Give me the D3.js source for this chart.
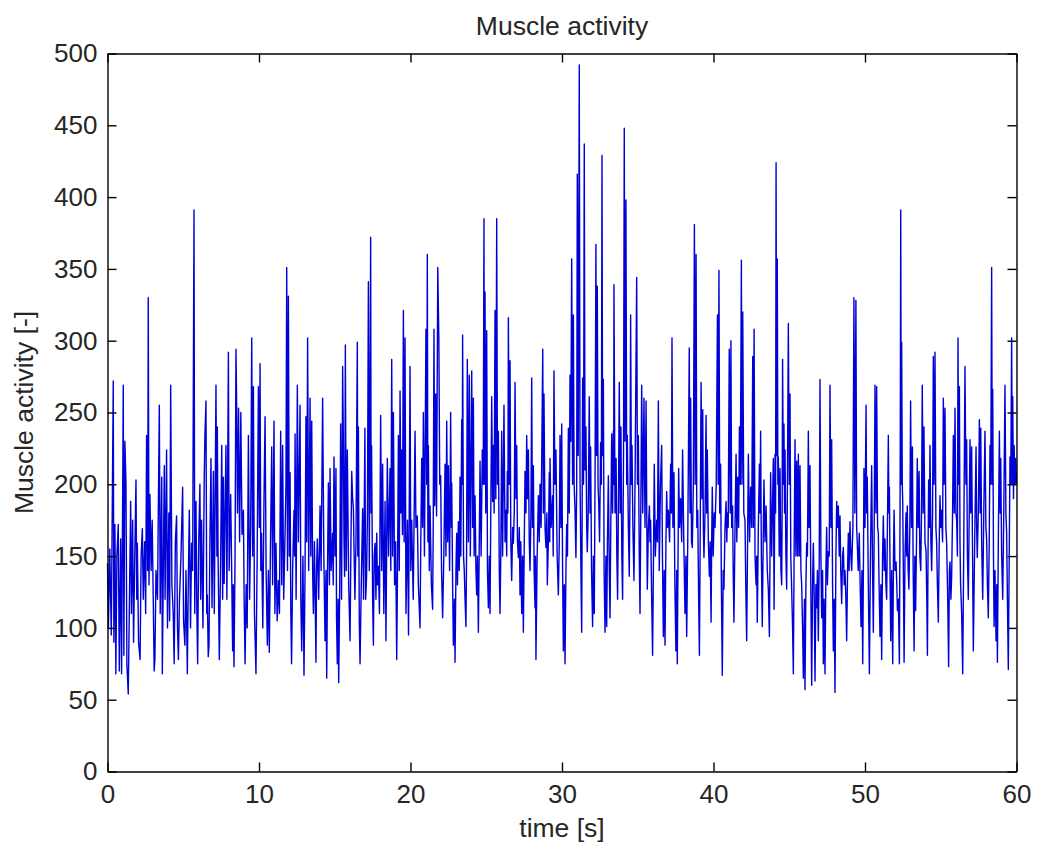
<!DOCTYPE html>
<html>
<head>
<meta charset="utf-8">
<script src="https://cdn.jsdelivr.net/npm/d3@7"></script>
<style>
  body { margin: 0; background: #fff; }
  svg text { font-family: "Liberation Sans", Arial, Helvetica, sans-serif; fill: #262626; }
</style>
</head>
<body>
<svg id="chart" width="1037" height="850"></svg>
<script>
// Muscle activity envelope: [time in s, activity], one array per 10 s block
const seg00 = [[0.00,145],[0.06,100],[0.15,155],[0.25,95],[0.38,272],[0.42,90],[0.49,172],[0.55,68],[0.62,150],[0.71,172],[0.78,70],[0.87,162],[0.93,68],[1.00,190],[1.04,269],[1.08,81],[1.15,230],[1.22,200],[1.28,75],[1.37,54],[1.45,120],[1.53,188],[1.58,110],[1.66,175],[1.72,90],[1.80,150],[1.88,203],[1.93,120],[1.97,159],[2.05,90],[2.15,78],[2.22,150],[2.30,169],[2.36,120],[2.45,160],[2.52,110],[2.58,234],[2.65,140],[2.69,330],[2.74,130],[2.80,193],[2.88,140],[2.95,175],[3.02,120],[3.08,70],[3.13,78],[3.20,140],[3.30,120],[3.42,255],[3.48,110],[3.58,205],[3.62,68],[3.70,160],[3.75,213],[3.80,120],[3.90,224],[3.96,100],[4.05,180],[4.10,105],[4.17,269],[4.25,130],[4.34,110],[4.40,75],[4.48,160],[4.56,178],[4.62,100],[4.68,78],[4.75,120],[4.85,150],[4.96,198],[5.02,105],[5.11,88],[5.18,140],[5.27,68],[5.33,130],[5.40,182],[5.48,100],[5.55,159],[5.62,140],[5.71,391],[5.76,110],[5.84,188],[5.90,110],[5.95,75],[6.02,160],[6.10,200],[6.15,120],[6.21,175],[6.30,100],[6.38,200],[6.43,234],[6.50,258],[6.55,110],[6.59,123],[6.65,80],[6.70,88],[6.76,160],[6.83,218],[6.90,114],[6.99,209],[7.05,110],[7.16,269],[7.22,150],[7.25,240],[7.30,149],[7.38,78],[7.46,140],[7.54,227],[7.60,120],[7.65,205],[7.70,131],[7.82,227],[7.88,120],[7.98,292],[8.03,140],[8.13,193],[8.18,153],[8.26,84],[8.30,130],[8.35,73],[8.42,150],[8.48,294],[8.52,260],[8.58,180],[8.65,253],[8.72,160],[8.80,250],[8.88,165],[8.97,182],[9.02,120],[9.08,75],[9.15,130],[9.22,100],[9.30,234],[9.38,120],[9.45,170],[9.52,302],[9.58,150],[9.63,268],[9.70,110],[9.80,68],[9.88,150],[9.96,268]];

const seg10 = [[10.02,170],[10.07,284],[10.12,140],[10.17,166],[10.25,100],[10.33,190],[10.40,247],[10.47,140],[10.55,88],[10.62,140],[10.68,83],[10.76,160],[10.84,226],[10.90,130],[10.99,244],[11.05,110],[11.12,159],[11.20,105],[11.28,133],[11.35,110],[11.43,237],[11.50,130],[11.56,227],[11.63,120],[11.72,166],[11.78,200],[11.83,351],[11.88,140],[11.94,331],[12.00,150],[12.05,208],[12.10,110],[12.15,75],[12.22,140],[12.31,182],[12.35,150],[12.38,235],[12.45,120],[12.53,269],[12.60,160],[12.71,255],[12.76,120],[12.82,84],[12.90,150],[12.97,67],[13.04,140],[13.10,247],[13.15,160],[13.21,302],[13.28,140],[13.37,260],[13.42,150],[13.48,244],[13.54,140],[13.59,110],[13.66,160],[13.76,76],[13.80,140],[13.85,162],[13.94,120],[14.03,185],[14.10,140],[14.20,260],[14.28,150],[14.36,91],[14.42,140],[14.47,65],[14.53,150],[14.58,201],[14.65,130],[14.69,211],[14.76,140],[14.86,166],[14.90,130],[14.95,219],[15.02,150],[15.08,211],[15.12,106],[15.17,75],[15.22,120],[15.26,62],[15.33,130],[15.39,242],[15.45,120],[15.52,282],[15.56,240],[15.61,162],[15.65,136],[15.70,297],[15.76,140],[15.83,224],[15.92,130],[16.01,91],[16.06,150],[16.12,209],[16.18,190],[16.23,183],[16.28,150],[16.33,120],[16.40,160],[16.49,299],[16.52,150],[16.56,240],[16.62,104],[16.67,75],[16.75,130],[16.84,183],[16.90,120],[16.99,239],[17.04,120],[17.10,135],[17.16,180],[17.22,341],[17.28,140],[17.37,372],[17.40,180],[17.43,227],[17.50,120],[17.55,88],[17.60,150],[17.66,159],[17.72,120],[17.77,166],[17.82,130],[17.88,143],[17.95,110],[18.03,248],[18.10,140],[18.16,214],[18.24,110],[18.32,188],[18.38,91],[18.47,218],[18.55,150],[18.65,211],[18.70,140],[18.76,287],[18.82,150],[18.87,250],[18.95,130],[19.02,160],[19.09,78],[19.15,150],[19.20,234],[19.26,140],[19.31,265],[19.37,180],[19.42,224],[19.47,165],[19.53,321],[19.58,160],[19.64,302],[19.70,110],[19.80,175],[19.87,95],[19.97,282]];

const seg20 = [[20.02,140],[20.08,175],[20.18,120],[20.30,237],[20.36,170],[20.45,178],[20.52,130],[20.63,100],[20.68,160],[20.74,218],[20.80,170],[20.85,250],[20.92,150],[21.02,308],[21.07,200],[21.11,360],[21.15,160],[21.18,227],[21.24,140],[21.29,185],[21.38,130],[21.46,113],[21.50,170],[21.55,308],[21.60,185],[21.66,263],[21.72,178],[21.80,351],[21.87,302],[21.93,200],[21.99,206],[22.05,140],[22.12,107],[22.20,150],[22.28,214],[22.34,150],[22.39,244],[22.45,160],[22.50,213],[22.58,140],[22.65,250],[22.70,170],[22.72,201],[22.78,130],[22.83,88],[22.90,120],[22.94,76],[23.00,140],[23.05,166],[23.10,130],[23.16,174],[23.22,140],[23.27,205],[23.32,150],[23.38,245],[23.42,200],[23.44,304],[23.50,150],[23.55,140],[23.60,120],[23.66,101],[23.70,150],[23.75,287],[23.82,160],[23.88,276],[23.95,150],[24.04,279],[24.10,170],[24.15,260],[24.20,150],[24.26,192],[24.32,140],[24.37,123],[24.42,150],[24.48,97],[24.53,150],[24.59,216],[24.66,150],[24.74,224],[24.80,200],[24.85,385],[24.88,200],[24.92,334],[24.97,180],[25.03,307],[25.08,140],[25.14,114],[25.20,150],[25.25,110],[25.30,180],[25.36,261],[25.42,188],[25.47,227],[25.52,180],[25.58,321],[25.63,190],[25.69,385],[25.74,200],[25.80,237],[25.86,140],[25.91,110],[25.96,150],[26.02,237],[26.08,150],[26.17,255],[26.24,160],[26.30,182],[26.35,150],[26.39,209],[26.43,180],[26.46,316],[26.52,200],[26.57,286],[26.62,160],[26.68,133],[26.74,170],[26.79,159],[26.85,180],[26.90,271],[26.96,190],[27.01,227],[27.06,160],[27.12,149],[27.18,170],[27.23,123],[27.28,160],[27.34,110],[27.40,150],[27.45,97],[27.50,150],[27.56,209],[27.62,180],[27.67,234],[27.72,190],[27.78,224],[27.84,160],[27.89,140],[27.95,180],[28.00,274],[28.05,170],[28.11,213],[28.16,140],[28.22,114],[28.25,150],[28.28,78],[28.36,150],[28.44,192],[28.50,160],[28.55,200],[28.62,170],[28.73,294],[28.77,180],[28.81,263],[28.88,170],[28.94,156],[29.00,180],[29.03,130],[29.10,160],[29.16,208],[29.19,160],[29.21,218],[29.28,170],[29.38,192],[29.42,150],[29.47,279],[29.53,200],[29.60,224],[29.68,150],[29.76,123],[29.82,160],[29.87,234],[29.93,170],[29.98,242]];

const seg30 = [[30.04,140],[30.09,84],[30.15,130],[30.20,75],[30.26,140],[30.31,172],[30.36,150],[30.42,239],[30.48,180],[30.53,276],[30.58,230],[30.64,357],[30.70,200],[30.75,318],[30.80,200],[30.86,182],[30.92,149],[30.97,200],[31.01,416],[31.07,220],[31.14,492],[31.19,205],[31.26,130],[31.30,97],[31.33,180],[31.36,274],[31.42,200],[31.47,437],[31.52,210],[31.58,240],[31.63,170],[31.67,153],[31.73,180],[31.80,261],[31.85,180],[31.89,226],[31.95,140],[32.02,101],[32.07,150],[32.13,110],[32.18,200],[32.24,367],[32.28,220],[32.33,338],[32.38,200],[32.42,188],[32.48,160],[32.55,229],[32.60,200],[32.64,429],[32.68,220],[32.73,273],[32.78,140],[32.84,97],[32.90,150],[32.95,101],[33.00,160],[33.06,206],[33.12,140],[33.17,107],[33.22,170],[33.28,235],[33.34,180],[33.39,237],[33.41,200],[33.43,339],[33.50,180],[33.57,218],[33.62,150],[33.67,120],[33.72,180],[33.78,271],[33.84,180],[33.89,240],[33.95,150],[34.00,120],[34.06,220],[34.11,448],[34.16,230],[34.22,398],[34.27,200],[34.31,234],[34.38,170],[34.44,136],[34.49,200],[34.53,318],[34.58,200],[34.62,227],[34.68,170],[34.75,133],[34.82,200],[34.93,344],[34.98,200],[35.04,234],[35.10,150],[35.15,110],[35.20,180],[35.26,269],[35.33,180],[35.41,260],[35.48,170],[35.55,258],[35.60,170],[35.63,127],[35.70,170],[35.77,185],[35.81,160],[35.85,175],[35.92,120],[35.98,81],[36.04,150],[36.09,214],[36.16,150],[36.25,175],[36.30,160],[36.36,258],[36.42,140],[36.50,200],[36.58,227],[36.63,150],[36.69,94],[36.75,140],[36.80,88],[36.86,160],[36.91,195],[36.96,170],[37.02,182],[37.10,160],[37.17,214],[37.22,180],[37.26,302],[37.32,170],[37.39,208],[37.45,130],[37.52,84],[37.57,140],[37.61,75],[37.66,150],[37.70,211],[37.76,170],[37.83,190],[37.90,160],[37.96,224],[38.04,160],[38.12,110],[38.18,150],[38.23,94],[38.30,160],[38.40,295],[38.45,180],[38.49,260],[38.55,160],[38.60,156],[38.67,200],[38.74,381],[38.79,200],[38.85,360],[38.90,170],[38.96,182],[39.02,120],[39.07,81],[39.12,160],[39.18,271],[39.24,190],[39.29,252],[39.33,170],[39.37,149],[39.44,180],[39.51,248],[39.55,180],[39.59,224],[39.66,160],[39.73,136],[39.78,160],[39.84,104],[39.88,160],[39.92,198],[39.98,150]];

const seg40 = [[40.05,180],[40.10,170],[40.18,200],[40.26,318],[40.31,200],[40.36,349],[40.41,180],[40.47,214],[40.52,130],[40.58,67],[40.64,140],[40.69,127],[40.76,170],[40.83,188],[40.88,160],[40.91,180],[40.97,170],[41.04,294],[41.10,180],[41.15,300],[41.20,170],[41.26,185],[41.30,140],[41.35,104],[41.42,170],[41.49,221],[41.54,160],[41.60,205],[41.66,170],[41.71,240],[41.77,200],[41.84,356],[41.88,200],[41.93,320],[42.00,180],[42.08,175],[42.13,130],[42.19,91],[42.25,160],[42.30,221],[42.38,160],[42.45,198],[42.52,170],[42.59,289],[42.63,170],[42.68,308],[42.74,150],[42.81,130],[42.85,150],[42.89,104],[42.96,170],[43.03,214],[43.07,180],[43.11,237],[43.16,150],[43.22,101],[43.28,160],[43.33,203],[43.40,160],[43.47,185],[43.55,140],[43.62,127],[43.69,94],[43.77,208],[43.84,150],[43.95,218],[44.00,113],[44.06,221],[44.10,180],[44.13,424],[44.17,220],[44.21,357],[44.25,200],[44.28,219],[44.34,150],[44.39,211],[44.45,140],[44.50,130],[44.53,180],[44.56,287],[44.61,200],[44.65,242],[44.69,180],[44.72,224],[44.78,150],[44.83,127],[44.88,200],[44.94,312],[45.00,200],[45.05,263],[45.10,150],[45.16,127],[45.22,100],[45.27,68],[45.32,150],[45.38,231],[45.44,150],[45.49,216],[45.55,150],[45.60,221],[45.66,150],[45.71,213],[45.77,140],[45.82,130],[45.88,100],[45.93,65],[46.00,120],[46.04,57],[46.10,130],[46.15,159],[46.20,150],[46.26,237],[46.31,170],[46.37,213],[46.43,120],[46.48,60],[46.54,130],[46.59,159],[46.65,120],[46.70,63],[46.76,130],[46.81,114],[46.86,140],[46.92,91],[46.98,150],[47.03,273],[47.09,150],[47.14,107],[47.20,140],[47.25,75],[47.30,120],[47.36,68],[47.42,140],[47.47,170],[47.52,130],[47.58,153],[47.64,150],[47.69,269],[47.75,170],[47.80,231],[47.86,130],[47.91,84],[47.97,120],[48.02,55],[48.08,150],[48.13,188],[48.18,170],[48.24,185],[48.30,150],[48.35,178],[48.40,140],[48.46,117],[48.52,150],[48.57,156],[48.63,130],[48.68,140],[48.74,120],[48.79,91],[48.85,140],[48.90,166],[48.95,140],[49.01,174],[49.07,150],[49.12,140],[49.20,170],[49.27,330],[49.33,180],[49.40,328],[49.45,170],[49.49,159],[49.55,140],[49.62,166],[49.68,130],[49.74,101],[49.80,140],[49.85,75],[49.90,150],[49.93,211]];

const seg50 = [[50.00,170],[50.07,255],[50.11,180],[50.15,205],[50.22,130],[50.29,68],[50.36,150],[50.44,213],[50.50,140],[50.55,97],[50.60,160],[50.66,269],[50.72,180],[50.77,268],[50.83,170],[50.88,166],[50.93,130],[50.99,94],[51.05,130],[51.10,78],[51.16,150],[51.21,178],[51.27,140],[51.32,162],[51.38,130],[51.43,120],[51.49,180],[51.54,234],[51.58,180],[51.61,198],[51.66,130],[51.70,91],[51.76,140],[51.83,75],[51.88,150],[51.92,182],[51.98,140],[52.05,146],[52.10,130],[52.14,112],[52.20,120],[52.27,75],[52.32,200],[52.36,391],[52.39,200],[52.42,299],[52.46,200],[52.49,188],[52.54,130],[52.58,76],[52.64,150],[52.71,180],[52.75,150],[52.79,185],[52.85,140],[52.90,127],[52.96,170],[53.01,258],[53.07,170],[53.13,226],[53.18,140],[53.24,84],[53.29,150],[53.34,112],[53.40,160],[53.45,218],[53.51,170],[53.57,209],[53.62,150],[53.68,140],[53.73,180],[53.78,269],[53.84,180],[53.89,240],[53.96,160],[54.03,153],[54.08,120],[54.12,81],[54.16,150],[54.20,203],[54.25,170],[54.29,227],[54.35,160],[54.40,140],[54.46,180],[54.51,289],[54.56,200],[54.62,292],[54.68,170],[54.73,159],[54.78,130],[54.84,104],[54.90,160],[54.95,192],[55.00,170],[55.06,182],[55.12,160],[55.17,260],[55.22,200],[55.28,253],[55.34,170],[55.39,159],[55.46,120],[55.52,73],[55.57,140],[55.61,146],[55.67,120],[55.72,136],[55.78,180],[55.83,234],[55.89,180],[55.94,253],[56.00,180],[56.05,175],[56.10,150],[56.14,302],[56.18,200],[56.23,268],[56.27,160],[56.31,130],[56.38,110],[56.45,68],[56.52,160],[56.60,282],[56.66,200],[56.71,231],[56.76,150],[56.82,120],[56.88,180],[56.93,231],[56.98,180],[57.04,226],[57.10,150],[57.15,84],[57.24,160],[57.33,226],[57.37,170],[57.41,149],[57.48,180],[57.55,245],[57.60,180],[57.64,239],[57.70,160],[57.77,120],[57.84,180],[57.92,237],[57.98,170],[58.03,162],[58.08,130],[58.14,107],[58.20,160],[58.25,227],[58.30,200],[58.36,351],[58.40,200],[58.43,266],[58.48,150],[58.52,101],[58.58,140],[58.65,91],[58.70,130],[58.74,76],[58.80,160],[58.87,237],[58.92,180],[58.96,218],[59.02,150],[59.09,120],[59.16,180],[59.24,269],[59.30,180],[59.35,166],[59.40,120],[59.46,71],[59.52,150],[59.57,219],[59.62,200],[59.68,302],[59.72,200],[59.75,261],[59.80,190],[59.84,227],[59.90,200],[59.95,218],[60.00,200]];

const xTicks = [0, 10, 20, 30, 40, 50, 60];
const yTicks = [0, 50, 100, 150, 200, 250, 300, 350, 400, 450, 500];
const chartTitle = "Muscle activity";
const xLabel = "time [s]";
const yLabel = "Muscle activity [-]";

const samples = [].concat(seg00, seg10, seg20, seg30, seg40, seg50);

const svg = d3.select("#chart");
const plotLeft = 107.5, plotRight = 1016.5, plotTop = 53.5, plotBottom = 771.5;
const fontSize = 26;
const tickLen = 9;

const x = d3.scaleLinear().domain([0, 60]).range([plotLeft, plotRight]);
const y = d3.scaleLinear().domain([0, 500]).range([plotBottom, plotTop]);

// signal trace
svg.append("path")
  .datum(samples)
  .attr("fill", "none")
  .attr("stroke", "#0000d8")
  .attr("stroke-width", 1.4)
  .attr("stroke-linejoin", "round")
  .attr("d", d3.line().x(d => x(d[0])).y(d => y(d[1])));

// axes box with inward ticks on all four sides
function styleAxis(g) {
  g.selectAll(".domain").attr("stroke", "#000").attr("stroke-width", 1.4);
  g.selectAll(".tick line").attr("stroke", "#000").attr("stroke-width", 1.4);
  g.selectAll(".tick text").attr("fill", "#262626").style("font-size", fontSize + "px")
    .style("font-family", "'Liberation Sans', Arial, sans-serif");
}

svg.append("g").attr("transform", `translate(0,${plotBottom})`)
  .call(d3.axisBottom(x).tickValues(xTicks).tickSize(-tickLen).tickSizeOuter(0).tickPadding(13).tickFormat(d3.format("d")))
  .call(styleAxis);

svg.append("g").attr("transform", `translate(0,${plotTop})`)
  .call(d3.axisTop(x).tickValues(xTicks).tickSize(-tickLen).tickSizeOuter(0).tickFormat(""))
  .call(styleAxis);

svg.append("g").attr("transform", `translate(${plotLeft},0)`)
  .call(d3.axisLeft(y).tickValues(yTicks).tickSize(-tickLen).tickSizeOuter(0).tickPadding(10).tickFormat(d3.format("d")))
  .call(styleAxis);

svg.append("g").attr("transform", `translate(${plotRight},0)`)
  .call(d3.axisRight(y).tickValues(yTicks).tickSize(-tickLen).tickSizeOuter(0).tickFormat(""))
  .call(styleAxis);

// titles
svg.append("text")
  .attr("x", (plotLeft + plotRight) / 2).attr("y", 35)
  .attr("text-anchor", "middle")
  .style("font-size", "26.5px")
  .text(chartTitle);

svg.append("text")
  .attr("x", (plotLeft + plotRight) / 2).attr("y", 837)
  .attr("text-anchor", "middle")
  .style("font-size", "26.5px")
  .text(xLabel);

svg.append("text")
  .attr("transform", `translate(33,${(plotTop + plotBottom) / 2}) rotate(-90)`)
  .attr("text-anchor", "middle")
  .style("font-size", "26.5px")
  .text(yLabel);
</script>
</body>
</html>
